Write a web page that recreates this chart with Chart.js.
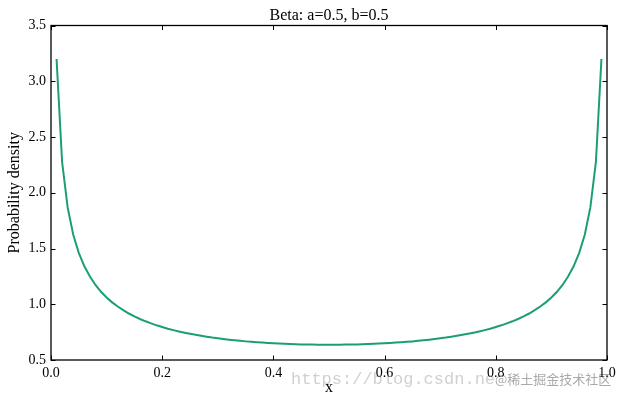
<!DOCTYPE html>
<html><head><meta charset="utf-8">
<script src="https://cdn.jsdelivr.net/npm/chart.js@4/dist/chart.umd.min.js"></script>
<style>html,body{margin:0;padding:0;background:#fff}#wrap{width:625px;height:399px;position:relative}</style>
</head><body><div id="wrap"><canvas id="c"></canvas></div>
<script>
const chartTitle = "Beta: a=0.5, b=0.5";
const xLabel = "x";
const yLabel = "Probability density";
const xValues = [0.01,0.02,0.03,0.04,0.05,0.06,0.07,0.08,0.09,0.10,0.11,0.12,0.13,0.14,0.15,0.16,0.17,0.18,0.19,0.20,
0.21,0.22,0.23,0.24,0.25,0.26,0.27,0.28,0.29,0.30,0.31,0.32,0.33,0.34,0.35,0.36,0.37,0.38,0.39,0.40,
0.41,0.42,0.43,0.44,0.45,0.46,0.47,0.48,0.49,0.50,0.51,0.52,0.53,0.54,0.55,0.56,0.57,0.58,0.59,0.60,
0.61,0.62,0.63,0.64,0.65,0.66,0.67,0.68,0.69,0.70,0.71,0.72,0.73,0.74,0.75,0.76,0.77,0.78,0.79,0.80,
0.81,0.82,0.83,0.84,0.85,0.86,0.87,0.88,0.89,0.90,0.91,0.92,0.93,0.94,0.95,0.96,0.97,0.98,0.99];
const densityValues = [3.199,2.274,1.866,1.624,1.461,1.340,1.248,1.173,1.112,1.061,1.017,0.980,0.947,0.917,0.891,0.868,0.847,0.829,0.811,0.796,
0.781,0.768,0.756,0.745,0.735,0.726,0.717,0.709,0.701,0.695,0.688,0.682,0.677,0.672,0.667,0.663,0.659,0.656,0.653,0.650,
0.647,0.645,0.643,0.641,0.640,0.639,0.638,0.637,0.637,0.637,0.637,0.637,0.638,0.639,0.640,0.641,0.643,0.645,0.647,0.650,
0.653,0.656,0.659,0.663,0.667,0.672,0.677,0.682,0.688,0.695,0.701,0.709,0.717,0.726,0.735,0.745,0.756,0.768,0.781,0.796,
0.811,0.829,0.847,0.868,0.891,0.917,0.947,0.980,1.017,1.061,1.112,1.173,1.248,1.340,1.461,1.624,1.866,2.274,3.199];
const xTickValues = [0.0,0.2,0.4,0.6,0.8,1.0];
const xTickLabels = ["0.0","0.2","0.4","0.6","0.8","1.0"];
const yTickValues = [0.5,1.0,1.5,2.0,2.5,3.0,3.5];
const yTickLabels = ["0.5","1.0","1.5","2.0","2.5","3.0","3.5"];
const watermark1 = "https://blog.csdn.ne";
const watermark2 = "@稀土掘金技术社区";

const SERIF = "'Liberation Serif','DejaVu Serif',serif";

const frameTicks = {
  id: 'frameTicks',
  beforeDraw(chart) {
    const ctx = chart.ctx;
    ctx.save();
    ctx.textBaseline = 'alphabetic';
    ctx.font = "17px 'Liberation Mono','DejaVu Sans Mono',monospace";
    ctx.fillStyle = 'rgba(170,170,170,0.55)';
    ctx.fillText(watermark1, 291, 384);
    ctx.font = "13px 'Noto Sans CJK SC',sans-serif";
    ctx.lineWidth = 2.5;
    ctx.strokeStyle = 'rgba(255,255,255,0.85)';
    ctx.strokeText(watermark2, 495, 384);
    ctx.fillStyle = 'rgba(140,140,140,0.75)';
    ctx.fillText(watermark2, 495, 384);
    ctx.restore();
  },
  afterDatasetsDraw(chart) {
    const {ctx, chartArea: a, scales: {x, y}} = chart;
    ctx.save();
    ctx.strokeStyle = '#000';
    ctx.lineWidth = 1;
    const L = 4.5;
    ctx.beginPath();
    xTickValues.forEach(v => {
      const px = Math.round(x.getPixelForValue(v)) + 0.5;
      ctx.moveTo(px, a.bottom); ctx.lineTo(px, a.bottom - L);
      ctx.moveTo(px, a.top); ctx.lineTo(px, a.top + L);
    });
    yTickValues.forEach(v => {
      const py = Math.round(y.getPixelForValue(v)) + 0.5;
      ctx.moveTo(a.left, py); ctx.lineTo(a.left + L, py);
      ctx.moveTo(a.right, py); ctx.lineTo(a.right - L, py);
    });
    ctx.stroke();
    ctx.lineWidth = 1.3;
    ctx.strokeRect(a.left, a.top, a.right - a.left, a.bottom - a.top);
    ctx.restore();
  }
};

new Chart(document.getElementById('c'), {
  type: 'line',
  data: {
    datasets: [{
      data: xValues.map((v, i) => ({x: v, y: densityValues[i]})),
      borderColor: '#1b9e77',
      borderWidth: 2,
      pointRadius: 0,
      fill: false,
      tension: 0
    }]
  },
  options: {
    responsive: true,
    maintainAspectRatio: false,
    animation: false,
    layout: {padding: {left: 0, right: 18, top: 0, bottom: 0}},
    plugins: {
      legend: {display: false},
      tooltip: {enabled: false},
      title: {
        display: true, text: chartTitle, color: '#000', fullSize: false,
        font: {family: SERIF, size: 16, weight: 'normal', lineHeight: 1},
        padding: {top: 8, bottom: 1.5}
      }
    },
    scales: {
      x: {
        type: 'linear', min: 0, max: 1,
        afterBuildTicks: s => { s.ticks = xTickValues.map(v => ({value: v})); },
        afterFit: s => { s.height = 39; },
        grid: {display: false, drawTicks: false},
        border: {display: false},
        ticks: {
          color: '#000', padding: 5, maxRotation: 0,
          font: {family: SERIF, size: 14},
          callback: (v) => xTickLabels[xTickValues.findIndex(t => Math.abs(t - v) < 1e-9)]
        },
        title: {display: true, text: xLabel, color: '#000', font: {family: SERIF, size: 16}, padding: {top: 0, bottom: 2}}
      },
      y: {
        type: 'linear', min: 0.5, max: 3.5,
        afterBuildTicks: s => { s.ticks = yTickValues.map(v => ({value: v})); },
        afterFit: s => { s.width = 51; },
        grid: {display: false, drawTicks: false},
        border: {display: false},
        ticks: {
          color: '#000', padding: 5,
          font: {family: SERIF, size: 14},
          callback: (v) => yTickLabels[yTickValues.findIndex(t => Math.abs(t - v) < 1e-9)]
        },
        title: {display: true, text: yLabel, color: '#000', font: {family: SERIF, size: 16}, padding: {top: 5, bottom: 0}}
      }
    }
  },
  plugins: [frameTicks]
});
</script></body></html>
